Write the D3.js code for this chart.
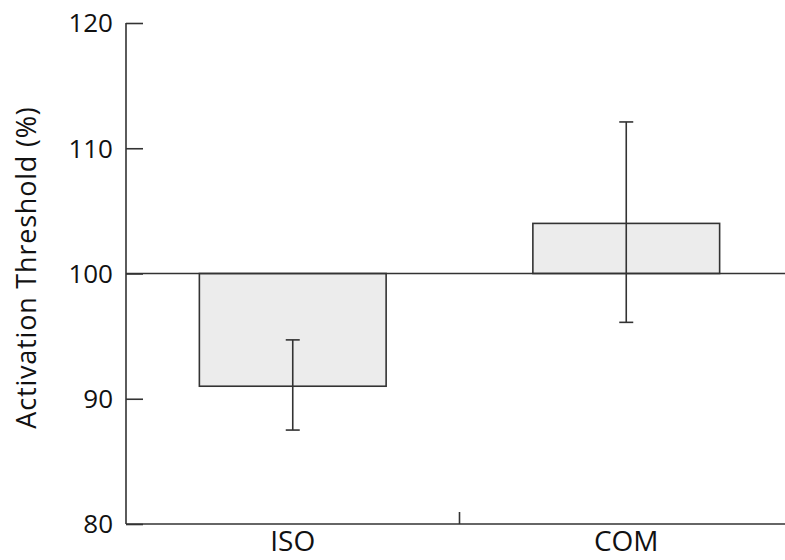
<!DOCTYPE html>
<html>
<head>
<meta charset="utf-8">
<script src="https://cdn.jsdelivr.net/npm/d3@7"></script>
<style>
  body { margin: 0; background: #fff; }
  text { font-family: "Open Sans", sans-serif; fill: #111; }
</style>
</head>
<body>
<div id="chart"></div>
<script>
// values
const categories = ["ISO", "COM"];
const means = [91.0, 104.0];
const errLow = [87.5, 96.1];
const errHigh = [94.7, 112.1];
const yTicks = [80, 90, 100, 110, 120];
const baseline = 100;

const width = 785, height = 560;
const margin = {top: 23, right: 0, bottom: 36, left: 126};

const svg = d3.select("#chart").append("svg")
    .attr("width", width)
    .attr("height", height);

const y = d3.scaleLinear()
    .domain([80, 120])
    .range([height - margin.bottom, margin.top]);

const x = d3.scaleBand()
    .domain(categories)
    .range([margin.left, margin.left + 667])
    .paddingInner(0.44)
    .paddingOuter(0.22);

const ink = "#333";

// bars hanging from the 100 line
svg.append("g")
    .selectAll("rect")
    .data(categories)
    .enter().append("rect")
        .attr("x", d => x(d))
        .attr("width", x.bandwidth())
        .attr("y", (d, i) => y(Math.max(means[i], baseline)))
        .attr("height", (d, i) => Math.abs(y(means[i]) - y(baseline)))
        .attr("fill", "#ececec")
        .attr("stroke", ink)
        .attr("stroke-width", 1.6);

// baseline at 100
svg.append("line")
    .attr("x1", margin.left)
    .attr("x2", width)
    .attr("y1", y(baseline))
    .attr("y2", y(baseline))
    .attr("stroke", ink)
    .attr("stroke-width", 1.6);

// error bars
const err = svg.append("g")
    .attr("stroke", ink)
    .attr("stroke-width", 1.6);
categories.forEach((c, i) => {
    let cx = x(c) + x.bandwidth() / 2;
    err.append("line")
        .attr("x1", cx).attr("x2", cx)
        .attr("y1", y(errLow[i])).attr("y2", y(errHigh[i]));
    [errLow[i], errHigh[i]].forEach(v => {
        err.append("line")
            .attr("x1", cx - 7).attr("x2", cx + 7)
            .attr("y1", y(v)).attr("y2", y(v));
    });
});

// y axis, ticks pointing inwards
const yAxis = svg.append("g")
    .attr("transform", `translate(${margin.left},0)`)
    .call(d3.axisRight(y).tickValues(yTicks).tickSize(17).tickFormat(""));
yAxis.select(".domain").remove();
yAxis.selectAll("line").attr("stroke", ink).attr("stroke-width", 1.6);

svg.append("line")
    .attr("x1", margin.left).attr("x2", margin.left)
    .attr("y1", y(120)).attr("y2", y(80))
    .attr("stroke", ink).attr("stroke-width", 1.6);

svg.append("g")
    .selectAll("text")
    .data(yTicks)
    .enter().append("text")
        .attr("x", margin.left - 13)
        .attr("y", d => y(d))
        .attr("dy", "0.36em")
        .attr("text-anchor", "end")
        .style("font-size", "26px")
        .text(d => d);

// x axis with a single divider tick between the groups
svg.append("line")
    .attr("x1", margin.left).attr("x2", width)
    .attr("y1", y(80)).attr("y2", y(80))
    .attr("stroke", ink).attr("stroke-width", 1.6);

const step = x.step();
const divider = x(categories[1]) - step * x.paddingInner() / 2;
svg.append("line")
    .attr("x1", divider).attr("x2", divider)
    .attr("y1", y(80)).attr("y2", y(80) - 12)
    .attr("stroke", ink).attr("stroke-width", 1.6);

svg.append("g")
    .selectAll("text")
    .data(categories)
    .enter().append("text")
        .attr("x", d => x(d) + x.bandwidth() / 2)
        .attr("y", 551)
        .attr("text-anchor", "middle")
        .style("font-size", "28px")
        .text(d => d);

// y axis title
svg.append("text")
    .attr("transform", `translate(36, ${y(100) - 6}) rotate(-90)`)
    .attr("text-anchor", "middle")
    .style("font-size", "27px")
    .style("letter-spacing", "0.8px")
    .text("Activation Threshold (%)");
</script>
</body>
</html>
